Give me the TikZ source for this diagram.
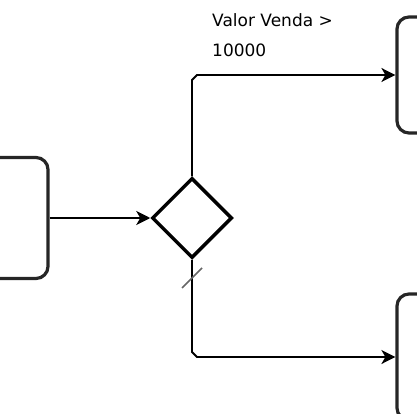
\documentclass[tikz,border=0pt]{standalone}
\usepackage{fontspec}
\setmainfont{DejaVu Sans}
\usetikzlibrary{shapes.geometric,arrows.meta}
\begin{document}
\begin{tikzpicture}[x=1pt,y=-1pt,
  box/.style={draw=black!85, line width=3.2pt, rounded corners=12pt, minimum width=100pt},
  gate/.style={diamond, draw=black, line width=3.5pt, inner sep=0pt, minimum width=80pt, minimum height=80pt},
  conn/.style={draw=black, line width=1.8pt, -{Stealth[length=14pt,width=14pt,inset=4pt]}},
  dflt/.style={draw=black!60, line width=1.6pt},
  lbl/.style={font=\fontsize{17}{30}\selectfont, text=black, align=left, anchor=north west, inner sep=0pt}]
\useasboundingbox (0,0) rectangle (417,414);
\clip (0,0) rectangle (417,414);
\node[box, minimum height=121pt] (src) at (-2,218) {};
\node[gate] (dia) at (192,218) {};
\node[box, minimum height=116pt] (tb) at (447,75) {};
\node[box, minimum height=126pt] (bb) at (447,357) {};
\draw[conn] (src.east) -- (dia.west);
\draw[conn] (dia.north) -- (192,80) -- (197,75) -- (tb.west);
\draw[conn] (dia.south) -- (192,352) -- (197,357) -- (bb.west);
\draw[dflt] (182,288) -- (202,268);
\node[lbl] (cond) at (212,13) {Valor Venda >\\10000};
\end{tikzpicture}
\end{document}
